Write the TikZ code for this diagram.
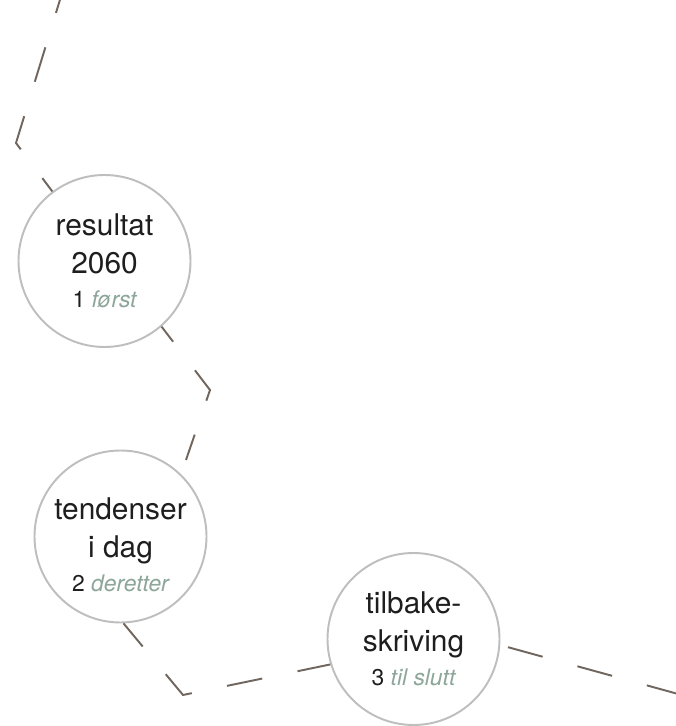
\documentclass[tikz,border=0pt]{standalone}
\usepackage{fontspec}
\setmainfont{TeX Gyre Heros}
\definecolor{trailbrown}{RGB}{112,102,94}
\definecolor{ringgray}{RGB}{190,190,190}
\definecolor{sage}{RGB}{140,166,154}
\definecolor{ink}{RGB}{30,30,30}
\newcommand{\stage}[2]{{\fontsize{13}{15}\selectfont #1 \textcolor{sage}{\itshape #2}}}
\tikzset{trail/.style={draw=trailbrown,line width=1.1pt,dash pattern=on 0.72cm off 0.72cm}}

\begin{document}
\begin{tikzpicture}
  \useasboundingbox (0,0) rectangle (13.52,14.52);
  \clip (0,0) rectangle (13.52,14.52);
  % bends of the trail
  \coordinate (top) at (1.26,14.72);
  \coordinate (k1) at (0.32,11.66);
  \coordinate (k2) at (4.20,6.72);
  \coordinate (e2) at (3.72,5.32);
  \coordinate (k3) at (3.66,0.62);
  \coordinate (out) at (14.0,0.52);
  \begin{scope}[every node/.style={circle,draw=ringgray,line width=1.1pt,fill=white,minimum size=3.44cm}]
    \node (c1) at (2.09,9.30) {};
    \node (c2) at (2.41,3.79) {};
    \node (c3) at (8.27,1.74) {};
  \end{scope}
  \begin{scope}[every node/.style={align=center,text=ink,font=\fontsize{17}{21.6}\selectfont}]
    \node (w1) at (c1) {resultat\\2060\\[-2pt]\stage{1}{først}};
    \node (w2) at ([yshift=-0.17cm]c2.center) {tendenser\\i dag\\[-2pt]\stage{2}{deretter}};
    \node (w3) at (c3) {tilbake-\\skriving\\[-2pt]\stage{3}{til slutt}};
  \end{scope}
  \draw[trail,dash phase=0.24cm] (top) -- (k1) -- (c1);
  \draw[trail,dash phase=0.34cm] (c1.-49) -- (k2) -- (e2);
  \draw[trail,dash phase=0.12cm] (c2.-88) -- (k3) -- (c3.197);
  \draw[trail,dash phase=1.28cm] (c3.-4) -- (out);
\end{tikzpicture}
\end{document}
